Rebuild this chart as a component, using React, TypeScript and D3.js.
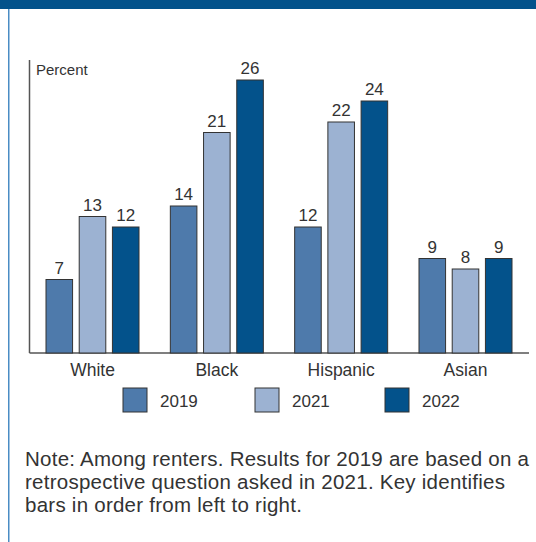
import React from "react";
import * as d3 from "d3";

const categories = ["White", "Black", "Hispanic", "Asian"];
const years = ["2019", "2021", "2022"];
const values2019 = [7, 14, 12, 9];
const values2021 = [13, 21, 22, 8];
const values2022 = [12, 26, 24, 9];
const seriesValues = [values2019, values2021, values2022];
const colors = ["#4e7aab", "#9cb2d2", "#03528b"];
const noteLines = [
  "Note: Among renters. Results for 2019 are based on a",
  "retrospective question asked in 2021. Key identifies",
  "bars in order from left to right.",
];

const W = 536;
const H = 542;
const baseY = 353;
const axisX = 29.5;
const yTop = 60;

export default function App() {
  const y = d3.scaleLinear().domain([0, 28]).range([baseY, baseY - 28 * 10.5]);
  const x0 = d3
    .scaleBand<string>()
    .domain(categories)
    .range([46, 512])
    .paddingInner(0.252)
    .paddingOuter(0);
  const x1 = d3.scaleBand<string>().domain(years).range([0, x0.bandwidth()]).paddingInner(0.2);
  const legendX = [123, 255, 385];
  const font = "'Liberation Sans', Arial, sans-serif";
  return (
    <svg
      width={W}
      height={H}
      style={{ position: "absolute", left: 0, top: 0, background: "#fff" }}
    >
      <rect x={0} y={0} width={W} height={9} fill="#03528b" />
      <rect x={8} y={9} width={1.5} height={H - 9} fill="#4a8cc4" />
      <line x1={axisX} x2={axisX} y1={yTop} y2={baseY} stroke="#555" strokeWidth={1.5} />
      <line x1={axisX} x2={529} y1={baseY} y2={baseY} stroke="#555" strokeWidth={1.5} />
      <text x={36} y={75} fontFamily={font} fontSize={15} fill="#333">
        Percent
      </text>
      {categories.map((c, ci) => (
        <g key={c} transform={`translate(${x0(c)},0)`}>
          {years.map((yr, si) => {
            const v = seriesValues[si][ci];
            const bx = x1(yr)!;
            return (
              <g key={yr}>
                <rect
                  x={bx}
                  y={y(v)}
                  width={x1.bandwidth()}
                  height={baseY - y(v)}
                  fill={colors[si]}
                  stroke="#333"
                  strokeWidth={1}
                />
                <text
                  x={bx + x1.bandwidth() / 2}
                  y={y(v) - 6}
                  textAnchor="middle"
                  fontFamily={font}
                  fontSize={17}
                  fill="#333"
                >
                  {v}
                </text>
              </g>
            );
          })}
          <text
            x={x0.bandwidth() / 2}
            y={376}
            textAnchor="middle"
            fontFamily={font}
            fontSize={17.5}
            fill="#333"
          >
            {c}
          </text>
        </g>
      ))}
      {years.map((yr, i) => (
        <g key={yr} transform={`translate(${legendX[i]},388)`}>
          <rect x={0} y={0} width={24} height={24} fill={colors[i]} stroke="#333" strokeWidth={1} />
          <text x={37} y={18.5} fontFamily={font} fontSize={17} fill="#333">
            {yr}
          </text>
        </g>
      ))}
      {noteLines.map((l, i) => (
        <text
          key={i}
          x={25}
          y={466 + i * 23}
          fontFamily={font}
          fontSize={20.5}
          letterSpacing={0.25}
          fill="#333"
        >
          {l}
        </text>
      ))}
    </svg>
  );
}
